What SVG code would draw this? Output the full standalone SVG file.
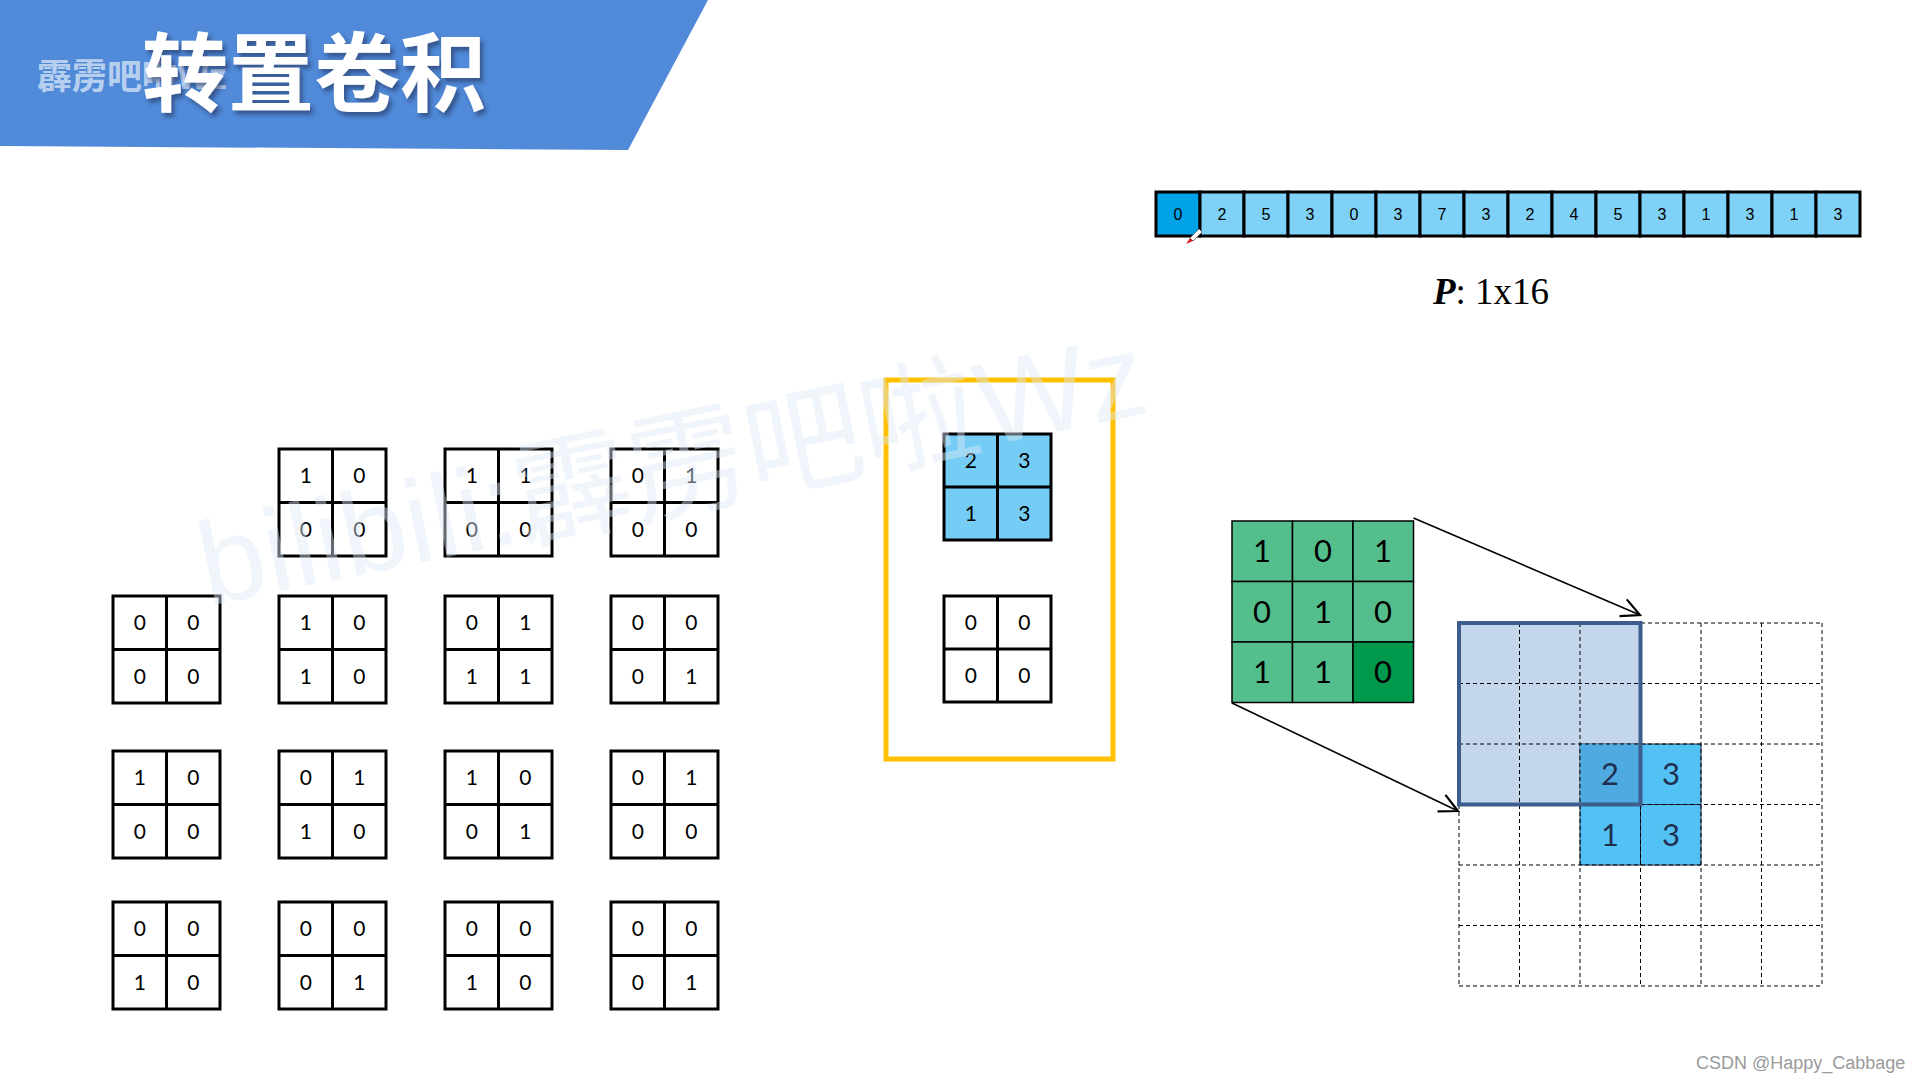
<svg xmlns="http://www.w3.org/2000/svg" width="1920" height="1080" viewBox="0 0 1920 1080">
<style>
.mb{fill:#fff;stroke:#000;stroke-width:3}
.mbb{fill:#75cdf5;stroke:#000;stroke-width:3}
.ml{fill:none;stroke:#000;stroke-width:3}
.md{font-family:Lato,"Liberation Sans",sans-serif;font-size:21px;fill:#000;text-anchor:middle}
.pc{fill:#7fd1f7;stroke:#000;stroke-width:3}
.pt{font-family:"Liberation Sans",Arial,sans-serif;font-size:16px;fill:#000;text-anchor:middle}
.kc{fill:#54bf8c;stroke:#000;stroke-width:1.5}
.kd{font-family:Lato,"Liberation Sans",sans-serif;font-size:31px;fill:#000;text-anchor:middle}
.bd{font-family:Lato,"Liberation Sans",sans-serif;font-size:31px;fill:#1f2f4f;text-anchor:middle}
.gl{stroke:#000;stroke-width:1;stroke-dasharray:4 3;fill:none}
.cn{stroke:#000;stroke-width:1.6;fill:none}
</style>
<defs>
<filter id="sh" x="-10%" y="-10%" width="130%" height="140%">
<feDropShadow dx="3" dy="4" stdDeviation="2" flood-color="#1b2c4f" flood-opacity="0.55"/>
</filter>
<marker id="ah" viewBox="0 0 12 12" refX="11" refY="6" markerWidth="22" markerHeight="22" markerUnits="userSpaceOnUse" orient="auto">
<path d="M1 1 L11 6 L1 11" fill="none" stroke="#000" stroke-width="1.2"/>
</marker>
</defs>
<rect width="1920" height="1080" fill="#fff"/>

<g id="header">
<polygon points="0,0 708,0 628,150 0,146" fill="#508ad8"/>
<text x="37" y="89" font-family="'Noto Sans CJK SC',sans-serif" font-weight="bold" font-size="35" fill="#fff" fill-opacity="0.62">霹雳吧啦Wz</text>
<text x="142" y="105" font-family="'Noto Sans CJK SC',sans-serif" font-weight="bold" font-size="86" fill="#fff" filter="url(#sh)">转置卷积</text>
</g>

<g id="p-vector">
<rect class="pc" x="1156" y="192" width="44" height="44" style="fill:#00a2e8"/>
<rect class="pc" x="1200" y="192" width="44" height="44"/>
<rect class="pc" x="1244" y="192" width="44" height="44"/>
<rect class="pc" x="1288" y="192" width="44" height="44"/>
<rect class="pc" x="1332" y="192" width="44" height="44"/>
<rect class="pc" x="1376" y="192" width="44" height="44"/>
<rect class="pc" x="1420" y="192" width="44" height="44"/>
<rect class="pc" x="1464" y="192" width="44" height="44"/>
<rect class="pc" x="1508" y="192" width="44" height="44"/>
<rect class="pc" x="1552" y="192" width="44" height="44"/>
<rect class="pc" x="1596" y="192" width="44" height="44"/>
<rect class="pc" x="1640" y="192" width="44" height="44"/>
<rect class="pc" x="1684" y="192" width="44" height="44"/>
<rect class="pc" x="1728" y="192" width="44" height="44"/>
<rect class="pc" x="1772" y="192" width="44" height="44"/>
<rect class="pc" x="1816" y="192" width="44" height="44"/>
<text class="pt" x="1178" y="220">0</text>
<text class="pt" x="1222" y="220">2</text>
<text class="pt" x="1266" y="220">5</text>
<text class="pt" x="1310" y="220">3</text>
<text class="pt" x="1354" y="220">0</text>
<text class="pt" x="1398" y="220">3</text>
<text class="pt" x="1442" y="220">7</text>
<text class="pt" x="1486" y="220">3</text>
<text class="pt" x="1530" y="220">2</text>
<text class="pt" x="1574" y="220">4</text>
<text class="pt" x="1618" y="220">5</text>
<text class="pt" x="1662" y="220">3</text>
<text class="pt" x="1706" y="220">1</text>
<text class="pt" x="1750" y="220">3</text>
<text class="pt" x="1794" y="220">1</text>
<text class="pt" x="1838" y="220">3</text>
<path d="M1190 238 L1199 229 L1202 232 L1193 241 Z" fill="#fff" stroke="#777" stroke-width="1"/>
<path d="M1190 238 L1193 241 L1186 244 Z" fill="#d42020"/>
<text x="1491" y="304" font-family="'Liberation Serif','Times New Roman',serif" font-size="37" text-anchor="middle" fill="#000"><tspan font-weight="bold" font-style="italic">P</tspan>: 1x16</text>
</g>

<g id="m-r1c2" transform="translate(279,449)"><rect class="mb" width="107" height="107"/><path class="ml" d="M53.5 0V107M0 53.5H107"/><text class="md" x="26.75" y="34">1</text><text class="md" x="80.25" y="34">0</text><text class="md" x="26.75" y="87.5">0</text><text class="md" x="80.25" y="87.5">0</text></g>
<g id="m-r1c3" transform="translate(445,449)"><rect class="mb" width="107" height="107"/><path class="ml" d="M53.5 0V107M0 53.5H107"/><text class="md" x="26.75" y="34">1</text><text class="md" x="80.25" y="34">1</text><text class="md" x="26.75" y="87.5">0</text><text class="md" x="80.25" y="87.5">0</text></g>
<g id="m-r1c4" transform="translate(611,449)"><rect class="mb" width="107" height="107"/><path class="ml" d="M53.5 0V107M0 53.5H107"/><text class="md" x="26.75" y="34">0</text><text class="md" x="80.25" y="34">1</text><text class="md" x="26.75" y="87.5">0</text><text class="md" x="80.25" y="87.5">0</text></g>

<g id="m-r2c1" transform="translate(113,596)"><rect class="mb" width="107" height="107"/><path class="ml" d="M53.5 0V107M0 53.5H107"/><text class="md" x="26.75" y="34">0</text><text class="md" x="80.25" y="34">0</text><text class="md" x="26.75" y="87.5">0</text><text class="md" x="80.25" y="87.5">0</text></g>
<g id="m-r2c2" transform="translate(279,596)"><rect class="mb" width="107" height="107"/><path class="ml" d="M53.5 0V107M0 53.5H107"/><text class="md" x="26.75" y="34">1</text><text class="md" x="80.25" y="34">0</text><text class="md" x="26.75" y="87.5">1</text><text class="md" x="80.25" y="87.5">0</text></g>
<g id="m-r2c3" transform="translate(445,596)"><rect class="mb" width="107" height="107"/><path class="ml" d="M53.5 0V107M0 53.5H107"/><text class="md" x="26.75" y="34">0</text><text class="md" x="80.25" y="34">1</text><text class="md" x="26.75" y="87.5">1</text><text class="md" x="80.25" y="87.5">1</text></g>
<g id="m-r2c4" transform="translate(611,596)"><rect class="mb" width="107" height="107"/><path class="ml" d="M53.5 0V107M0 53.5H107"/><text class="md" x="26.75" y="34">0</text><text class="md" x="80.25" y="34">0</text><text class="md" x="26.75" y="87.5">0</text><text class="md" x="80.25" y="87.5">1</text></g>

<g id="m-r3c1" transform="translate(113,751)"><rect class="mb" width="107" height="107"/><path class="ml" d="M53.5 0V107M0 53.5H107"/><text class="md" x="26.75" y="34">1</text><text class="md" x="80.25" y="34">0</text><text class="md" x="26.75" y="87.5">0</text><text class="md" x="80.25" y="87.5">0</text></g>
<g id="m-r3c2" transform="translate(279,751)"><rect class="mb" width="107" height="107"/><path class="ml" d="M53.5 0V107M0 53.5H107"/><text class="md" x="26.75" y="34">0</text><text class="md" x="80.25" y="34">1</text><text class="md" x="26.75" y="87.5">1</text><text class="md" x="80.25" y="87.5">0</text></g>
<g id="m-r3c3" transform="translate(445,751)"><rect class="mb" width="107" height="107"/><path class="ml" d="M53.5 0V107M0 53.5H107"/><text class="md" x="26.75" y="34">1</text><text class="md" x="80.25" y="34">0</text><text class="md" x="26.75" y="87.5">0</text><text class="md" x="80.25" y="87.5">1</text></g>
<g id="m-r3c4" transform="translate(611,751)"><rect class="mb" width="107" height="107"/><path class="ml" d="M53.5 0V107M0 53.5H107"/><text class="md" x="26.75" y="34">0</text><text class="md" x="80.25" y="34">1</text><text class="md" x="26.75" y="87.5">0</text><text class="md" x="80.25" y="87.5">0</text></g>

<g id="m-r4c1" transform="translate(113,902)"><rect class="mb" width="107" height="107"/><path class="ml" d="M53.5 0V107M0 53.5H107"/><text class="md" x="26.75" y="34">0</text><text class="md" x="80.25" y="34">0</text><text class="md" x="26.75" y="87.5">1</text><text class="md" x="80.25" y="87.5">0</text></g>
<g id="m-r4c2" transform="translate(279,902)"><rect class="mb" width="107" height="107"/><path class="ml" d="M53.5 0V107M0 53.5H107"/><text class="md" x="26.75" y="34">0</text><text class="md" x="80.25" y="34">0</text><text class="md" x="26.75" y="87.5">0</text><text class="md" x="80.25" y="87.5">1</text></g>
<g id="m-r4c3" transform="translate(445,902)"><rect class="mb" width="107" height="107"/><path class="ml" d="M53.5 0V107M0 53.5H107"/><text class="md" x="26.75" y="34">0</text><text class="md" x="80.25" y="34">0</text><text class="md" x="26.75" y="87.5">1</text><text class="md" x="80.25" y="87.5">0</text></g>
<g id="m-r4c4" transform="translate(611,902)"><rect class="mb" width="107" height="107"/><path class="ml" d="M53.5 0V107M0 53.5H107"/><text class="md" x="26.75" y="34">0</text><text class="md" x="80.25" y="34">0</text><text class="md" x="26.75" y="87.5">0</text><text class="md" x="80.25" y="87.5">1</text></g>

<g id="selection">
<rect x="886" y="380" width="227" height="379" fill="none" stroke="#ffc000" stroke-width="5"/>
<g id="m-blue" transform="translate(944,434)"><rect class="mbb" width="107" height="106"/><path class="ml" d="M53.5 0V106M0 53H107"/><text class="md" x="26.75" y="34">2</text><text class="md" x="80.25" y="34">3</text><text class="md" x="26.75" y="87">1</text><text class="md" x="80.25" y="87">3</text></g>
<g id="m-zero" transform="translate(944,596)"><rect class="mb" width="107" height="106"/><path class="ml" d="M53.5 0V106M0 53H107"/><text class="md" x="26.75" y="34">0</text><text class="md" x="80.25" y="34">0</text><text class="md" x="26.75" y="87">0</text><text class="md" x="80.25" y="87">0</text></g>
</g>

<g id="kernel">
<rect class="kc" x="1232" y="521" width="60.5" height="60.5"/>
<rect class="kc" x="1292.5" y="521" width="60.5" height="60.5"/>
<rect class="kc" x="1353" y="521" width="60.5" height="60.5"/>
<rect class="kc" x="1232" y="581.5" width="60.5" height="60.5"/>
<rect class="kc" x="1292.5" y="581.5" width="60.5" height="60.5"/>
<rect class="kc" x="1353" y="581.5" width="60.5" height="60.5"/>
<rect class="kc" x="1232" y="642" width="60.5" height="60.5"/>
<rect class="kc" x="1292.5" y="642" width="60.5" height="60.5"/>
<rect class="kc" x="1353" y="642" width="60.5" height="60.5" style="fill:#00994c"/>
<text class="kd" x="1262" y="562">1</text><text class="kd" x="1323" y="562">0</text><text class="kd" x="1383" y="562">1</text>
<text class="kd" x="1262" y="623">0</text><text class="kd" x="1323" y="623">1</text><text class="kd" x="1383" y="623">0</text>
<text class="kd" x="1262" y="683">1</text><text class="kd" x="1323" y="683">1</text><text class="kd" x="1383" y="683">0</text>
</g>

<g id="output-grid">
<rect x="1459" y="623" width="181.5" height="181.5" fill="#c4d6ec"/>
<rect x="1580" y="744" width="121" height="121" fill="#52c2f5"/>
<path d="M1580 744H1701V865H1580Z M1640.5 744V865 M1580 804.5H1701" fill="none" stroke="#1f2f4f" stroke-width="1"/>
<rect x="1580" y="744" width="60.5" height="60.5" fill="#4faae2"/>
<path class="gl" d="M1459 623V986M1519.5 623V986M1580 623V986M1640.5 623V986M1701 623V986M1761.5 623V986M1822 623V986M1459 623H1822M1459 683.5H1822M1459 744H1822M1459 804.5H1822M1459 865H1822M1459 925.5H1822M1459 986H1822"/>
<rect x="1459" y="623" width="181.5" height="181.5" fill="none" stroke="#3d5d8d" stroke-width="4"/>
<text class="bd" x="1610" y="785">2</text><text class="bd" x="1671" y="785">3</text>
<text class="bd" x="1610" y="846">1</text><text class="bd" x="1671" y="846">3</text>
</g>

<g id="connectors">
<line class="cn" x1="1413.5" y1="518" x2="1640" y2="615" marker-end="url(#ah)"/>
<line class="cn" x1="1232" y1="703" x2="1458" y2="811" marker-end="url(#ah)"/>
</g>

<text x="208" y="606" transform="rotate(-11.6 208 606)" font-family="'Liberation Sans','Noto Sans CJK SC',sans-serif" font-size="118" fill="#dbe8f6" fill-opacity="0.45">bilibili:霹雳吧啦Wz</text>

<text x="1696" y="1069" font-family="'Liberation Sans',Arial,sans-serif" font-size="18" fill="#9a9a9a">CSDN @Happy_Cabbage</text>
</svg>
